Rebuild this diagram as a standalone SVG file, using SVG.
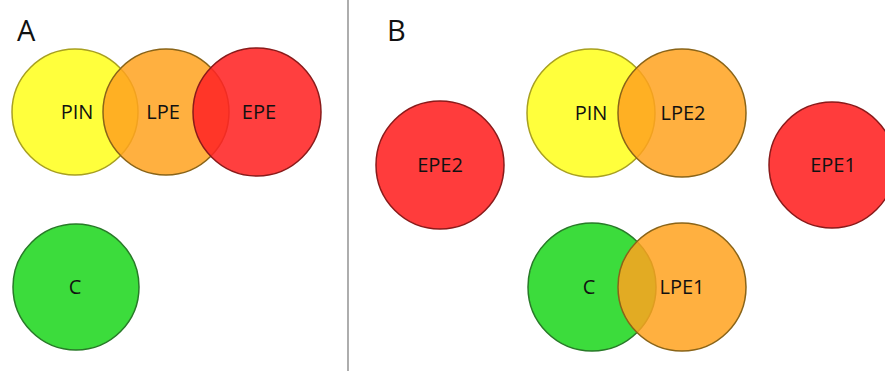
<svg xmlns="http://www.w3.org/2000/svg" width="885" height="371" viewBox="0 0 885 371">
<defs>
<style>
.lbl{font-family:"Open Sans","Liberation Sans",sans-serif;font-size:20px;fill:#111;text-anchor:middle}
.panel{font-family:"Open Sans","Liberation Sans",sans-serif;font-size:29px;fill:#111}
.pin{fill:#ffff3c;stroke:#a8a020;stroke-width:1.5}
.lpe{fill:#ffa21e;fill-opacity:0.85;stroke:#8a6418;stroke-width:1.5}
.epe{fill:#ff2424;fill-opacity:0.88;stroke:#8a1a1a;stroke-width:1.5}
.epes{fill:#ff3c3c;stroke:#8a1a1a;stroke-width:1.5}
.c{fill:#3cdc3c;stroke:#287a28;stroke-width:1.5}
</style>
</defs>
<rect width="885" height="371" fill="#fff"/>
<line x1="348" y1="0" x2="348" y2="371" stroke="#777" stroke-width="1.2"/>
<text class="panel" x="17" y="41">A</text>
<text class="panel" x="387" y="41">B</text>
<g id="A_PIN"><circle class="pin" cx="75" cy="112" r="63"/><text class="lbl" x="77" y="119">PIN</text></g>
<g id="A_LPE"><circle class="lpe" cx="166" cy="112" r="63"/><text class="lbl" x="163" y="119">LPE</text></g>
<g id="A_EPE"><circle class="epe" cx="257" cy="112" r="64"/><text class="lbl" x="259" y="119">EPE</text></g>
<g id="A_C"><circle class="c" cx="76" cy="287" r="63"/><text class="lbl" x="75" y="294">C</text></g>
<g id="B_EPE2"><circle class="epes" cx="440" cy="165" r="64"/><text class="lbl" x="440" y="172">EPE2</text></g>
<g id="B_PIN"><circle class="pin" cx="591" cy="113" r="64"/><text class="lbl" x="591" y="120">PIN</text></g>
<g id="B_LPE2"><circle class="lpe" cx="682" cy="113" r="64"/><text class="lbl" x="683" y="120">LPE2</text></g>
<g id="B_EPE1"><circle class="epes" cx="832" cy="165" r="63"/><text class="lbl" x="833" y="172">EPE1</text></g>
<g id="B_C"><circle class="c" cx="592" cy="287" r="64"/><text class="lbl" x="589" y="294">C</text></g>
<g id="B_LPE1"><circle class="lpe" cx="682" cy="287" r="64"/><text class="lbl" x="682" y="294">LPE1</text></g>
<g id="connectors"></g>
</svg>
